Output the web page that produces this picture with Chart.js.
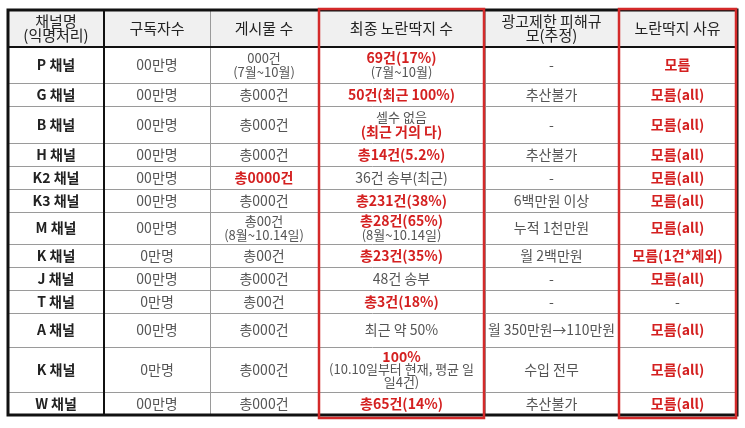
<!DOCTYPE html>
<html><head><meta charset="utf-8">
<script src="https://cdn.jsdelivr.net/npm/chart.js@4"></script>
<style>html,body{margin:0;padding:0;background:#fff}#c{display:block}</style>
</head><body>
<canvas id="c" width="745" height="428"></canvas>
<script>
// ---- data ----
const headers = [["채널명","(익명처리)"],["구독자수"],["게시물 수"],["최종 노란딱지 수"],["광고제한 피해규","모(추정)"],["노란딱지 사유"]];
const channels = ["P 채널","G 채널","B 채널","H 채널","K2 채널","K3 채널","M 채널","K 채널","J 채널","T 채널","A 채널","K 채널","W 채널"];
const subscribers = ["00만명","00만명","00만명","00만명","00만명","00만명","00만명","0만명","00만명","0만명","00만명","0만명","00만명"];
const posts = [["000건","(7월~10월)"],["총000건"],["총000건"],["총000건"],["*총0000건"],["총000건"],["총00건","(8월~10.14일)"],["총00건"],["총000건"],["총00건"],["총000건"],["총000건"],["총000건"]];
const yellowCounts = [["*69건(17%)","(7월~10월)"],["*50건(최근 100%)"],["셀수 없음","*(최근 거의 다)"],["*총14건(5.2%)"],["36건 송부(최근)"],["*총231건(38%)"],["*총28건(65%)","(8월~10.14일)"],["*총23건(35%)"],["48건 송부"],["*총3건(18%)"],["최근 약 50%"],["*100%","(10.10일부터 현재, 평균 일","일4건)"],["*총65건(14%)"]];
const adLoss = ["-","추산불가","-","추산불가","-","6백만원 이상","누적 1천만원","월 2백만원","-","-","월 350만원→110만원","수입 전무","추산불가"];
const reasons = ["*모름","*모름(all)","*모름(all)","*모름(all)","*모름(all)","*모름(all)","*모름(all)","*모름(1건*제외)","*모름(all)","-","*모름(all)","*모름(all)","*모름(all)"];
// ---- layout ----
const colWidths = [96,106,108,167,133,119];
const headerHeight = 37;
const rowHeights = [36,23,37,23,23,23,32,23,23,23,34,45,23];

const colEdges=[0]; colWidths.forEach(w=>colEdges.push(colEdges[colEdges.length-1]+w));
const rowEdges=[0,headerHeight]; rowHeights.forEach(h=>rowEdges.push(rowEdges[rowEdges.length-1]+h));
const W=colEdges[colEdges.length-1], H=rowEdges[rowEdges.length-1];
const FONT='"Noto Sans CJK KR","Noto Sans",sans-serif';

const tablePlugin={id:'table',afterDraw(chart){
  const ctx=chart.ctx,xs=chart.scales.x,ys=chart.scales.y;
  const X=v=>xs.getPixelForValue(v),Y=v=>ys.getPixelForValue(v);
  ctx.save();
  ctx.fillStyle='#f0f0f0';
  ctx.fillRect(X(0),Y(0),X(W)-X(0),Y(headerHeight)-Y(0));
  ctx.strokeStyle='#9a9a9a';ctx.lineWidth=1;
  rowEdges.forEach(r=>{ctx.beginPath();ctx.moveTo(X(0),Math.round(Y(r))+0.5);ctx.lineTo(X(W),Math.round(Y(r))+0.5);ctx.stroke();});
  colEdges.forEach(c=>{ctx.beginPath();ctx.moveTo(Math.round(X(c))+0.5,Y(0));ctx.lineTo(Math.round(X(c))+0.5,Y(H));ctx.stroke();});
  ctx.strokeStyle='#111';ctx.lineWidth=2;
  ctx.beginPath();ctx.moveTo(X(0),Y(headerHeight));ctx.lineTo(X(W),Y(headerHeight));ctx.stroke();
  ctx.beginPath();ctx.moveTo(X(colEdges[1]),Y(0));ctx.lineTo(X(colEdges[1]),Y(H));ctx.stroke();
  ctx.lineWidth=3;ctx.strokeRect(X(0),Y(0),X(W)-X(0),Y(H)-Y(0));
  ctx.strokeStyle='#d42a2a';ctx.lineWidth=2.5;
  [3,5].forEach(c=>ctx.strokeRect(X(colEdges[c])+1,Y(0)-1,X(colEdges[c+1])-X(colEdges[c])-2,Y(H)-Y(0)+4));
  ctx.textAlign='center';ctx.textBaseline='middle';
  function cell(lines,c,r0,r1,base){
    const cx=(X(colEdges[c])+X(colEdges[c+1]))/2, cy=(Y(r0)+Y(r1))/2;
    const maxW=X(colEdges[c+1])-X(colEdges[c])-6;
    const lh=lines.length>2?13:14;
    lines.forEach((t,i)=>{
      let red=t[0]==='*'; if(red)t=t.slice(1);
      if(red){ctx.fillStyle='#d42020';ctx.font='bold 14px '+FONT;}
      else{ctx.fillStyle=base.color;ctx.font=base.font;}
      if(lines.length>1&&!red&&!base.header) ctx.font='13px '+FONT;
      ctx.fillText(t,cx,cy+(i-(lines.length-1)/2)*lh,maxW);
    });
  }
  headers.forEach((h,c)=>cell(h,c,rowEdges[0],rowEdges[1],{color:'#222',font:'15px '+FONT,header:true}));
  const norm={color:'#555',font:'14px '+FONT};
  channels.forEach((ch,i)=>{
    const r0=rowEdges[i+1],r1=rowEdges[i+2];
    cell([ch],0,r0,r1,{color:'#222',font:'bold 14px '+FONT});
    cell([subscribers[i]],1,r0,r1,norm);
    cell(posts[i],2,r0,r1,norm);
    cell(yellowCounts[i],3,r0,r1,norm);
    cell([adLoss[i]],4,r0,r1,norm);
    cell([reasons[i]],5,r0,r1,norm);
  });
  ctx.restore();
}};

new Chart(document.getElementById('c'),{
  type:'scatter',
  data:{datasets:[{data:[]}]},
  options:{responsive:false,animation:false,
    layout:{padding:{left:8,right:8,top:10,bottom:13}},
    plugins:{legend:{display:false},tooltip:{enabled:false}},
    scales:{x:{type:'linear',min:0,max:W,display:false},
            y:{type:'linear',min:0,max:H,reverse:true,display:false}}},
  plugins:[tablePlugin]
});
</script>
</body></html>
